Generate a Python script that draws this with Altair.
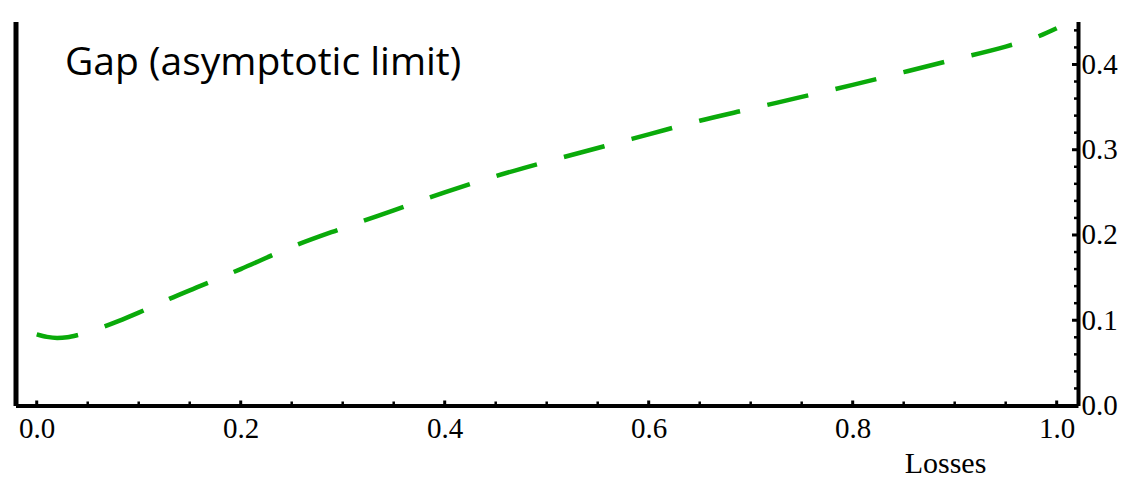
import altair as alt
import pandas as pd

# Curve
losses = [0.0, 0.01, 0.02, 0.03, 0.04, 0.06, 0.08, 0.10, 0.13, 0.16, 0.20, 0.25,
          0.30, 0.35, 0.40, 0.45, 0.50, 0.55, 0.60, 0.65, 0.70, 0.75, 0.80, 0.85,
          0.90, 0.95, 0.98, 1.00]
gap = [0.0835, 0.0805, 0.0792, 0.0800, 0.0825, 0.0900, 0.0990, 0.1090, 0.1250,
       0.1400, 0.1600, 0.1860, 0.2080, 0.2290, 0.2500, 0.2690, 0.2860, 0.3020,
       0.3180, 0.3340, 0.3480, 0.3620, 0.3760, 0.3910, 0.4060, 0.4210, 0.4320,
       0.4425]

x_major = [0.0, 0.2, 0.4, 0.6, 0.8, 1.0]
x_minor = [0.05, 0.1, 0.15, 0.25, 0.3, 0.35, 0.45, 0.5, 0.55, 0.65, 0.7, 0.75,
           0.85, 0.9, 0.95]
y_major = [0.0, 0.1, 0.2, 0.3, 0.4]
y_minor = [0.02, 0.04, 0.06, 0.08, 0.12, 0.14, 0.16, 0.18, 0.22, 0.24, 0.26, 0.28,
           0.32, 0.34, 0.36, 0.38, 0.42, 0.44]

title_text = "Gap (asymptotic limit)"
x_title = "Losses"

W = 1062.5
H = 384
GREEN = "#0aaa0a"
SERIF = "Liberation Serif"

df = pd.DataFrame({"x": losses, "y": gap})
xs = alt.Scale(domain=[-0.0208, 1.0209], nice=False, zero=False)
ys = alt.Scale(domain=[0, 0.4504], nice=False, zero=False)

x_axis = alt.Axis(values=x_major, format=".1f", orient="bottom", grid=False,
                  ticks=False, tickSize=0, domainColor="black", domainWidth=4,
                  labelFont=SERIF, labelFontSize=29, labelColor="black",
                  labelPadding=9, labelFlush=False,
                  title=x_title, titleFont=SERIF, titleFontSize=30,
                  titleFontWeight="normal", titleColor="black",
                  titleX=929.5, titleY=67, titleAlign="center",
                  titleBaseline="alphabetic", titleAngle=0)
y_axis_right = alt.Axis(values=y_major, format=".1f", orient="right", grid=False,
                        ticks=False, tickSize=0, domainColor="black", domainWidth=4,
                        labelFont=SERIF, labelFontSize=29, labelColor="black",
                        labelPadding=3, labelFlush=False, title=None)
y_axis_left = alt.Axis(orient="left", grid=False, ticks=False, labels=False,
                       domainColor="black", domainWidth=5, title=None)

line = alt.Chart(df).mark_line(
    color=GREEN, strokeWidth=4.5, strokeDash=[42, 28], interpolate="monotone"
).encode(
    x=alt.X("x:Q", scale=xs, axis=x_axis),
    y=alt.Y("y:Q", scale=ys, axis=y_axis_right),
)

left_frame = alt.Chart(df).mark_line(opacity=0).encode(
    x=alt.X("x:Q", scale=xs),
    y=alt.Y("y:Q", scale=ys, axis=y_axis_left),
)

xmaj = alt.Chart(pd.DataFrame({"x": x_major})).mark_rule(color="black", strokeWidth=3).encode(
    x=alt.X("x:Q", scale=xs), y=alt.value(H), y2=alt.value(H - 5))
xmin = alt.Chart(pd.DataFrame({"x": x_minor})).mark_rule(color="black", strokeWidth=2.5).encode(
    x=alt.X("x:Q", scale=xs), y=alt.value(H), y2=alt.value(H - 4))
ymaj = alt.Chart(pd.DataFrame({"y": y_major})).mark_rule(color="black", strokeWidth=3).encode(
    y=alt.Y("y:Q", scale=ys, axis=None), x=alt.value(W), x2=alt.value(W - 6))
ymin = alt.Chart(pd.DataFrame({"y": y_minor})).mark_rule(color="black", strokeWidth=2.5).encode(
    y=alt.Y("y:Q", scale=ys, axis=None), x=alt.value(W), x2=alt.value(W - 4))

title = alt.Chart(pd.DataFrame({"t": [title_text]})).mark_text(
    font="Open Sans", fontSize=39, color="black", align="left", baseline="alphabetic"
).encode(text="t:N", x=alt.value(49.5), y=alt.value(53.5))

chart = alt.layer(line, left_frame, xmaj, xmin, ymaj, ymin, title).resolve_axis(
    y="independent"
).properties(
    width=W, height=H,
    autosize=alt.AutoSizeParams(type="none"),
    padding={"left": 7.5, "top": 13.5, "right": 40, "bottom": 75},
    background="white",
).configure_view(stroke=None)

chart.save("out.html", embed_options={"renderer": "svg", "actions": False})
